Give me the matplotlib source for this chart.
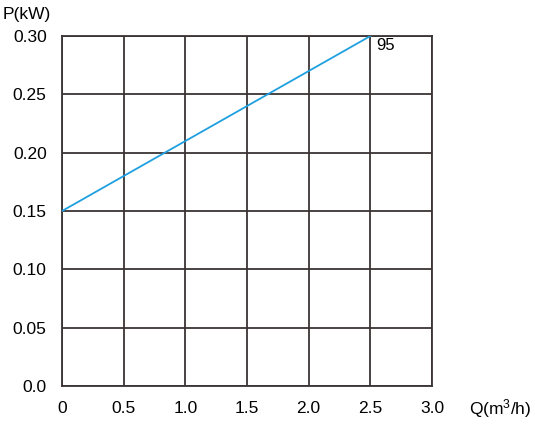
import matplotlib
matplotlib.use("Agg")
import matplotlib.pyplot as plt

plt.rcParams['font.family'] = ['Liberation Sans', 'DejaVu Sans']
plt.rcParams['mathtext.fontset'] = 'custom'
plt.rcParams['mathtext.rm'] = 'Liberation Sans'

# data
q = [0, 2.5]
p = [0.15, 0.30]
curve_label = "95"
x_ticks = [0, 0.5, 1.0, 1.5, 2.0, 2.5, 3.0]
x_labels = ["0", "0.5", "1.0", "1.5", "2.0", "2.5", "3.0"]
y_ticks = [0, 0.05, 0.10, 0.15, 0.20, 0.25, 0.30]
y_labels = ["0.0", "0.05", "0.10", "0.15", "0.20", "0.25", "0.30"]

grid_col = '#3b3434'

fig = plt.figure(figsize=(5.35, 4.24), dpi=100)
ax = fig.add_axes([0.1159, 0.0896, 0.6916, 0.8254])

ax.plot(q, p, color='#1ea0e0', lw=1.3, zorder=3)
ax.text(q[-1] + 0.05, p[-1] - 0.002, curve_label, fontsize=12, va='top', ha='left')

ax.set_xlim(0, 3.0)
ax.set_ylim(0, 0.30)
ax.set_xticks(x_ticks)
ax.set_xticklabels(x_labels)
ax.set_yticks(y_ticks)
ax.set_yticklabels(y_labels)
ax.tick_params(axis='x', length=0, labelsize=12.5, pad=11)
ax.tick_params(axis='y', length=0, labelsize=12.5, pad=11)
ax.grid(True, color=grid_col, lw=1.3)
for s in ax.spines.values():
    s.set_color(grid_col)
    s.set_linewidth(1.3)

fig.text(0.005, 0.965, "P(kW)", fontsize=12.5, ha='left', va='center')
fig.text(0.877, 0.036, r"Q(m$\mathregular{^3}$/h)", fontsize=12.5, ha='left', va='center')

fig.savefig("out.png", dpi=100)
